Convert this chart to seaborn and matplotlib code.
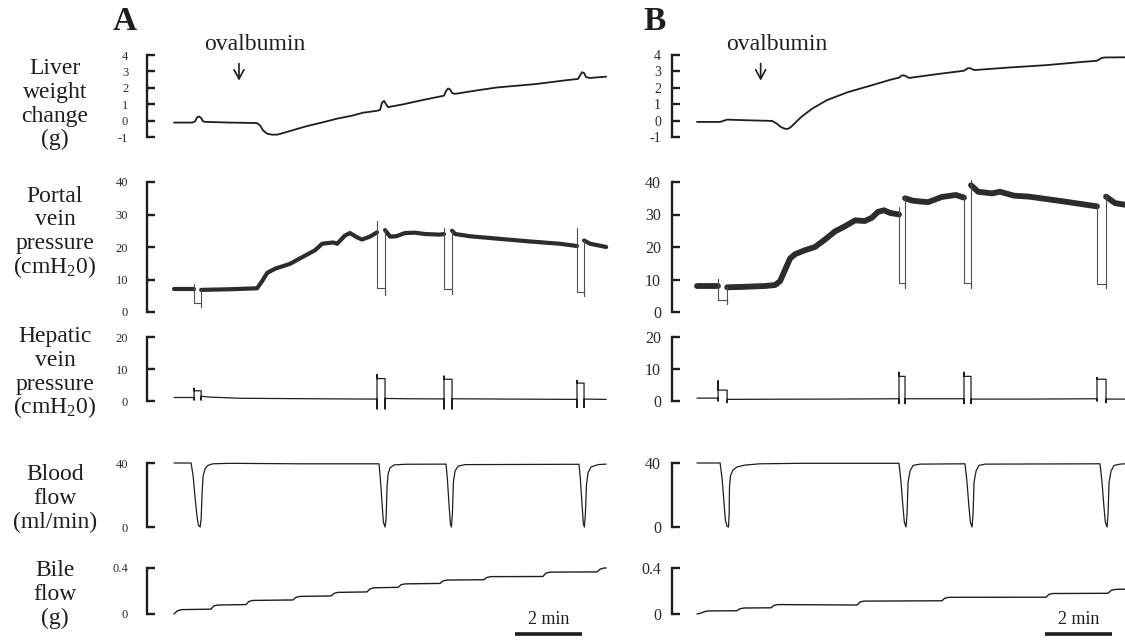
import matplotlib
matplotlib.use("Agg")
import matplotlib.pyplot as plt
import numpy as np
import pandas as pd
import seaborn as sns

sns.set_theme(style="white")
plt.rcParams["font.family"] = ["Liberation Serif", "DejaVu Serif"]
plt.rcParams["mathtext.fontset"] = "custom"
plt.rcParams["mathtext.rm"] = "Liberation Serif"
plt.rcParams["mathtext.it"] = "Liberation Serif:italic"
plt.rcParams["axes.unicode_minus"] = False

# ---------------------------------------------------------------- recordings
# time in minutes from the start of each recording

# Liver weight change (g)
liver_a_t = [0.03, 0.57, 0.66, 0.72, 0.78, 0.84, 0.90, 0.99, 1.70, 2.51, 2.60, 2.69, 2.81, 2.96,
             3.13, 3.52, 3.97, 4.54, 4.90, 5.10, 5.34, 5.67, 6.09, 6.18, 6.24, 6.30, 6.36, 6.42,
             6.84, 7.40, 8.09, 8.15, 8.21, 8.27, 8.33, 8.42, 9.10, 9.67, 10.84, 11.73, 12.09,
             12.15, 12.21, 12.27, 12.33, 12.45, 12.93]
liver_a_v = [-0.12, -0.12, -0.05, 0.20, 0.25, 0.15, -0.05, -0.08, -0.12, -0.15, -0.30, -0.60,
             -0.80, -0.86, -0.85, -0.62, -0.35, -0.07, 0.12, 0.20, 0.30, 0.48, 0.60, 0.65, 1.10,
             1.20, 1.00, 0.82, 0.98, 1.23, 1.52, 1.80, 1.96, 1.90, 1.68, 1.63, 1.85, 2.02, 2.23,
             2.46, 2.54, 2.75, 2.95, 2.90, 2.65, 2.60, 2.68]
liver_b_t = [0.00, 0.69, 0.81, 0.90, 1.49, 2.24, 2.36, 2.51, 2.63, 2.72, 2.81, 3.10, 3.43, 3.88,
             4.51, 5.16, 5.79, 6.03, 6.12, 6.21, 6.33, 7.19, 7.97, 8.09, 8.18, 8.27, 9.34, 10.42,
             11.52, 11.94, 12.06, 12.15, 12.78]
liver_b_v = [-0.08, -0.08, 0.00, 0.06, 0.02, -0.02, -0.15, -0.40, -0.50, -0.50, -0.38, 0.20,
             0.72, 1.25, 1.74, 2.12, 2.50, 2.62, 2.76, 2.74, 2.60, 2.84, 3.04, 3.20, 3.18, 3.08,
             3.24, 3.38, 3.58, 3.65, 3.80, 3.85, 3.86]

# Portal vein pressure (cmH2O): mean trace between occlusions
portal_a_t = [0.03, 0.63, 0.84, 1.70, 2.51, 2.66, 2.81, 3.04, 3.49, 3.79, 4.24, 4.45, 4.78, 4.90,
              5.13, 5.28, 5.49, 5.64, 5.88, 6.09, 6.33, 6.48, 6.66, 6.93, 7.22, 7.52, 7.97, 8.09,
              8.33, 8.42, 8.87, 9.76, 10.66, 11.55, 12.06, 12.27, 12.45, 12.93]
portal_a_v = [7.0, 7.0, 6.8, 7.0, 7.3, 9.5, 12.0, 13.3, 14.8, 16.5, 19.0, 21.0, 21.4, 21.0, 23.5,
              24.3, 23.0, 22.3, 23.2, 24.5, 25.2, 23.2, 23.3, 24.3, 24.4, 24.0, 23.8, 24.0, 25.0,
              24.0, 23.3, 22.5, 21.7, 21.0, 20.3, 22.0, 21.0, 20.0]
portal_b_t = [0.00, 0.63, 0.90, 1.28, 2.03, 2.33, 2.48, 2.63, 2.78, 2.93, 3.22, 3.52, 3.82, 4.12,
              4.42, 4.72, 5.01, 5.22, 5.40, 5.58, 5.76, 6.03, 6.21, 6.42, 6.66, 6.90, 7.31, 7.73,
              7.97, 8.18, 8.39, 8.81, 9.04, 9.46, 9.91, 10.96, 11.94, 12.21, 12.48, 12.78]
portal_b_v = [8.0, 8.0, 7.6, 7.7, 8.0, 8.3, 9.5, 13.0, 16.5, 17.8, 19.0, 20.0, 22.3, 24.8, 26.4,
              28.2, 28.0, 29.0, 30.8, 31.3, 30.5, 30.0, 35.0, 34.3, 34.0, 33.8, 35.4, 36.0, 35.2,
              39.0, 37.0, 36.5, 37.0, 35.8, 35.5, 34.0, 32.5, 35.5, 33.5, 33.0]
# occlusion / calibration events: start, end, spike top, floor, low, resume
portal_a_events = [(0.63, 0.84, 8.5, 2.8, 1.6, 6.8),
                   (6.09, 6.33, 28.0, 7.3, 5.3, 25.3),
                   (8.09, 8.33, 26.0, 7.0, 5.4, 25.0),
                   (12.06, 12.27, 26.0, 6.2, 4.8, 22.0)]
portal_b_events = [(0.63, 0.90, 10.3, 3.7, 2.5, 7.8),
                   (6.03, 6.21, 32.3, 8.8, 7.5, 35.5),
                   (7.97, 8.18, 35.5, 8.8, 7.5, 40.5),
                   (11.94, 12.21, 33.0, 8.5, 7.3, 36.4)]

# Hepatic vein pressure (cmH2O)
hepatic_a_t = [0.03, 0.63, 0.63, 0.63, 0.63, 0.84, 0.84, 0.84, 1.10, 1.40, 2.00, 3.50, 5.00,
               6.09, 6.09, 6.09, 6.09, 6.33, 6.33, 6.33, 7.00, 8.09, 8.09, 8.09, 8.09, 8.33, 8.33,
               8.33, 10.00, 12.06, 12.06, 12.06, 12.06, 12.27, 12.27, 12.27, 12.93]
hepatic_a_v = [1.1, 1.1, 0.3, 4.0, 3.2, 3.2, 0.3, 1.5, 1.2, 1.1, 0.85, 0.75, 0.65, 0.6, -2.5, 8.3,
               7.0, 7.0, -2.5, 0.8, 0.7, 0.65, -2.5, 7.8, 6.8, 6.8, -2.5, 0.7, 0.6, 0.5, -2.0, 6.4,
               5.6, 5.6, -2.0, 0.6, 0.5]
hepatic_b_t = [0.00, 0.63, 0.63, 0.63, 0.63, 0.90, 0.90, 0.90, 2.00, 4.00, 6.03, 6.03, 6.03, 6.03,
               6.21, 6.21, 6.21, 7.97, 7.97, 7.97, 7.97, 8.18, 8.18, 8.18, 10.00, 11.94, 11.94,
               11.94, 11.94, 12.21, 12.21, 12.21, 12.78]
hepatic_b_v = [0.9, 0.9, 0.0, 6.3, 3.4, 3.4, -0.5, 0.5, 0.55, 0.6, 0.7, -0.8, 9.0, 7.7, 7.7, -0.8,
               0.7, 0.7, -0.8, 9.0, 7.7, 7.7, -0.8, 0.6, 0.6, 0.7, 0.0, 7.3, 6.8, 6.8, -0.5, 0.6,
               0.6]

# Blood flow (ml/min)
blood_a_t = [0.03, 0.54, 0.60, 0.66, 0.72, 0.76, 0.81, 0.84, 0.87, 0.90, 0.96, 1.04, 1.19, 1.70,
             3.79, 6.15, 6.19, 6.24, 6.28, 6.33, 6.36, 6.39, 6.42, 6.48, 6.60, 6.93, 8.15, 8.19,
             8.24, 8.28, 8.31, 8.34, 8.37, 8.42, 8.51, 8.72, 12.12, 12.16, 12.21, 12.25, 12.28,
             12.31, 12.34, 12.39, 12.48, 12.69, 12.93]
blood_a_v = [40.0, 40.0, 32.0, 18.0, 6.0, 1.0, 0.0, 5.0, 22.0, 32.0, 36.5, 38.5, 39.5, 39.8, 39.5,
             39.5, 30.0, 15.0, 3.0, 0.0, 5.0, 25.0, 33.0, 37.0, 38.8, 39.2, 39.3, 30.0, 14.0, 2.0,
             0.0, 8.0, 28.0, 35.0, 38.0, 39.0, 39.2, 30.0, 14.0, 2.0, 0.0, 8.0, 26.0, 34.0, 37.5,
             39.0, 39.3]
blood_b_t = [0.00, 0.69, 0.75, 0.81, 0.85, 0.90, 0.94, 0.96, 0.97, 1.00, 1.07, 1.19, 1.43, 1.88,
             3.07, 6.03, 6.09, 6.15, 6.19, 6.24, 6.27, 6.30, 6.36, 6.45, 6.66, 8.00, 8.06, 8.12,
             8.16, 8.21, 8.24, 8.27, 8.33, 8.42, 8.60, 12.03, 12.09, 12.15, 12.19, 12.24, 12.27,
             12.30, 12.36, 12.45, 12.63, 12.78]
blood_b_v = [40.0, 40.0, 30.0, 14.0, 4.0, 0.3, 0.0, 8.0, 25.0, 32.0, 35.5, 37.5, 38.7, 39.5, 39.8,
             39.8, 28.0, 12.0, 3.0, 0.0, 8.0, 28.0, 35.0, 38.5, 39.3, 39.5, 28.0, 12.0, 3.0, 0.0,
             8.0, 28.0, 35.0, 38.5, 39.3, 39.5, 28.0, 12.0, 3.0, 0.0, 8.0, 28.0, 35.0, 38.5, 39.3,
             39.5]

# Bile flow (g, cumulative)
bile_a_t = [0.03, 0.12, 0.24, 1.13, 1.22, 1.34, 2.18, 2.27, 2.39, 3.58, 3.67, 3.79, 4.72, 4.81,
            4.93, 5.79, 5.88, 6.00, 6.72, 6.81, 6.93, 7.97, 8.06, 8.18, 9.28, 9.37, 9.49, 11.04,
            11.13, 11.25, 12.66, 12.75, 12.87, 12.93]
bile_a_v = [0.000, 0.025, 0.038, 0.042, 0.070, 0.078, 0.082, 0.110, 0.118, 0.122, 0.145, 0.153,
            0.157, 0.180, 0.188, 0.192, 0.218, 0.228, 0.232, 0.255, 0.262, 0.266, 0.288, 0.295,
            0.298, 0.318, 0.325, 0.326, 0.355, 0.364, 0.366, 0.390, 0.400, 0.400]
bile_b_t = [0.00, 0.12, 0.24, 0.36, 1.19, 1.28, 1.40, 2.21, 2.30, 2.42, 4.78, 4.87, 4.99, 7.31,
            7.40, 7.52, 10.42, 10.51, 10.63, 12.27, 12.36, 12.48, 12.78]
bile_b_v = [0.000, 0.008, 0.022, 0.027, 0.028, 0.045, 0.052, 0.054, 0.075, 0.082, 0.078, 0.105,
            0.112, 0.115, 0.138, 0.145, 0.146, 0.172, 0.178, 0.180, 0.205, 0.214, 0.216]

# ovalbumin injection time (min) and time scale bar
inject_a, inject_b = 1.97, 1.90
scale_bar_a, scale_bar_b = (10.21, 12.21), (10.39, 12.39)

# ---------------------------------------------------------------- layout
FIG_W, FIG_H = 1125, 640
PX_PER_MIN = 33.5
COL_A = (147, 173, 612)      # spine x, time-zero x, right edge (pixels)
COL_B = (672, 697, 1125)
ROWS = {
    "liver":   ((-1, 137), (4, 55), (-1.4, 4.4)),
    "portal":  ((0, 312), (40, 182), (-2, 42)),
    "hepatic": ((0, 401), (20, 337), (-4, 21)),
    "blood":   ((0, 527), (40, 463), (-2, 42)),
    "bile":    ((0, 614), (0.4, 568), (-0.05, 0.45)),
}
TICKS = {
    "liver":   ([-1, 0, 1, 2, 3, 4], ["-1", "0", "1", "2", "3", "4"]),
    "portal":  ([0, 10, 20, 30, 40], ["0", "10", "20", "30", "40"]),
    "hepatic": ([0, 10, 20], ["0", "10", "20"]),
    "blood":   ([0, 40], ["0", "40"]),
    "bile":    ([0, 0.4], ["0", "0.4"]),
}
LABELS = {
    "liver":   (["Liver", "weight", "change", "(g)"], 74),
    "portal":  (["Portal", "vein", "pressure", r"(cmH$_{\mathregular{2}}$0)"], 201.5),
    "hepatic": (["Hepatic", "vein", "pressure", r"(cmH$_{\mathregular{2}}$0)"], 342),
    "blood":   (["Blood", "flow", "(ml/min)"], 480),
    "bile":    (["Bile", "flow", "(g)"], 576.5),
}
LINE_STEP = 23.8
INK = "#1e1e1e"

fig = plt.figure(figsize=(FIG_W / 100, FIG_H / 100), dpi=100)
fig.patch.set_facecolor("white")


def make_axes(col, row_key):
    spine_px, t0_px, right_px = col
    (v_lo, y_lo), (v_hi, y_hi), (lim_lo, lim_hi) = ROWS[row_key]
    k = (y_lo - y_hi) / (v_hi - v_lo)
    y_bottom = y_lo + (v_lo - lim_lo) * k
    y_top = y_hi - (lim_hi - v_hi) * k
    ax = fig.add_axes([spine_px / FIG_W, 1 - y_bottom / FIG_H,
                       (right_px - spine_px) / FIG_W, (y_bottom - y_top) / FIG_H])
    ax.patch.set_visible(False)
    ax.set_xlim((spine_px - t0_px) / PX_PER_MIN, (right_px - t0_px) / PX_PER_MIN)
    ax.set_ylim(lim_lo, lim_hi)
    return ax


def style_axes(ax, row_key, panel):
    (v_lo, _), (v_hi, _), _ = ROWS[row_key]
    for side in ("top", "right", "bottom"):
        ax.spines[side].set_visible(False)
    ax.spines["left"].set_bounds(v_lo, v_hi)
    ax.spines["left"].set_linewidth(1.7)
    ax.spines["left"].set_color(INK)
    ax.set_xticks([])
    ticks, labels = TICKS[row_key]
    ax.set_yticks(ticks)
    ax.set_yticklabels(labels)
    if panel == "A":
        size, pad = 9, 13.5
    else:
        size, pad = (10 if row_key == "liver" else 11.5), 8
    ax.tick_params(axis="y", direction="in", length=5.5, width=1.7, color=INK,
                   labelsize=size, labelcolor="#2a2a2a", pad=pad, left=True)
    ax.set_xlabel("")
    ax.set_ylabel("")
    ax.grid(False)


def trace(ax, t, v, lw, color=INK, seg=None):
    df = pd.DataFrame({"t": t, "v": v, "seg": seg if seg is not None else np.zeros(len(t), int)})
    sns.lineplot(data=df, x="t", y="v", units="seg", estimator=None, sort=False,
                 color=color, linewidth=lw, ax=ax, legend=False)


def band_segments(t, events):
    t = np.asarray(t)
    return sum((t >= ev[1]).astype(int) for ev in events)


def occlusion_frame(events):
    rows = []
    for i, (ts, te, top, floor, low, resume) in enumerate(events):
        for pt in [(ts, top), (ts, floor), (te, floor), (te, low), (te, resume)]:
            rows.append((pt[0], pt[1], i))
    return pd.DataFrame(rows, columns=["t", "v", "seg"])


panels = {
    "A": dict(col=COL_A, liver=(liver_a_t, liver_a_v), portal=(portal_a_t, portal_a_v),
              events=portal_a_events, hepatic=(hepatic_a_t, hepatic_a_v),
              blood=(blood_a_t, blood_a_v), bile=(bile_a_t, bile_a_v),
              inject=inject_a, bar=scale_bar_a, band_lw=3.0),
    "B": dict(col=COL_B, liver=(liver_b_t, liver_b_v), portal=(portal_b_t, portal_b_v),
              events=portal_b_events, hepatic=(hepatic_b_t, hepatic_b_v),
              blood=(blood_b_t, blood_b_v), bile=(bile_b_t, bile_b_v),
              inject=inject_b, bar=scale_bar_b, band_lw=4.2),
}

for name, p in panels.items():
    axes = {key: make_axes(p["col"], key) for key in ROWS}

    trace(axes["liver"], *p["liver"], lw=1.3)

    pt, pv = p["portal"]
    trace(axes["portal"], pt, pv, lw=p["band_lw"], color="#2c2c2c",
          seg=band_segments(pt, p["events"]))
    occ = occlusion_frame(p["events"])
    sns.lineplot(data=occ, x="t", y="v", units="seg", estimator=None, sort=False,
                 color="#505050", linewidth=0.8, ax=axes["portal"], legend=False)

    trace(axes["hepatic"], *p["hepatic"], lw=0.9)
    trace(axes["blood"], *p["blood"], lw=0.9)
    trace(axes["bile"], *p["bile"], lw=1.0)

    for key, ax in axes.items():
        style_axes(ax, key, name)

    # injection marker
    ax = axes["liver"]
    ax.annotate("", xy=(p["inject"], 2.44), xytext=(p["inject"], 3.48),
                arrowprops=dict(arrowstyle="->,head_length=0.55,head_width=0.3",
                                lw=1.2, color=INK, shrinkA=0, shrinkB=0),
                annotation_clip=False)
    ax.text(p["inject"] + 0.48, 4.30, "ovalbumin", ha="center", va="baseline",
            fontsize=17, color=INK, clip_on=False)

    # time scale bar
    ax = axes["bile"]
    b0, b1 = p["bar"]
    ax.hlines(-0.17, b0, b1, color=INK, linewidth=2.6, clip_on=False)
    ax.text((b0 + b1) / 2, -0.087, "2 min", ha="center", va="baseline",
            fontsize=13, color=INK, clip_on=False)

    # panel letter
    letter_x = 124.5 if name == "A" else 654.5
    fig.text(letter_x / FIG_W, 1 - 29.5 / FIG_H, name, ha="center", va="baseline",
             fontsize=24, fontweight="bold", color=INK)

# channel names on the left
for key, (lines, first_baseline) in LABELS.items():
    for i, line in enumerate(lines):
        fig.text(55 / FIG_W, 1 - (first_baseline + i * LINE_STEP) / FIG_H, line,
                 ha="center", va="baseline", fontsize=17, color=INK)

fig.savefig("out.png", dpi=100, facecolor="white")
